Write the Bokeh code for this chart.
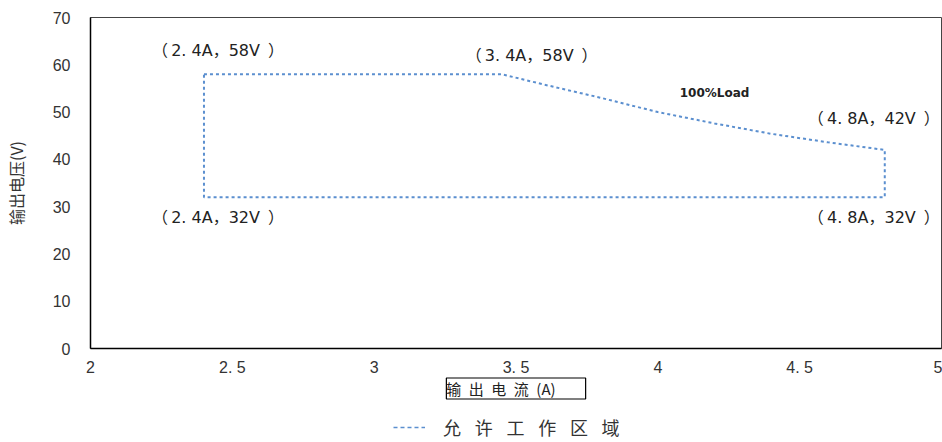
from bokeh.plotting import figure
from bokeh.layouts import column
from bokeh.models import Range1d, Label, Legend, LegendItem, FixedTicker, Title
from bokeh.core.properties import value
from bokeh.embed import file_html
from bokeh.resources import INLINE

# --- data ---
current_a = [2.4, 3.4, 3.45, 3.6, 3.8, 4.0, 4.2, 4.4, 4.6, 4.8, 4.8, 2.4, 2.4]
voltage_v = [58, 58, 58, 55.8, 53, 50, 47.6, 45.4, 43.6, 42, 32, 32, 58]

point_x = [2.4, 2.4, 3.4, 4.8, 4.8]
point_y = [58, 32, 58, 42, 32]
point_text = ["（\u20092. 4A，58V\u2002）", "（\u20092. 4A，32V\u2002）", "（\u20093. 4A，58V\u2002）",
              "（\u20094. 8A，42V\u2002）", "（\u20094. 8A，32V\u2002）"]
point_dx = [14, 14, 44, -11, -11]
point_dy = [-24, 20, -19, -31, 20]

x_ticks = [2, 2.5, 3, 3.5, 4, 4.5, 5]
x_tick_labels = ["2", "2. 5", "3", "3. 5", "4", "4. 5", "5"]
y_ticks = [0, 10, 20, 30, 40, 50, 60, 70]

load_note = "100%Load"
load_x, load_y = 4.2, 54
legend_text = "\u2002\u2009\u200a".join("允许工作区域")
x_title = "\u2002".join(["输", "出", "电", "流", "(A)"]) + "\u2003\u2003"
y_title = "输出电压(V)"

LINE_COLOR = "#5b8fcf"
TICK_FONT = "Liberation Sans"
LBL_FONT = "DejaVu Sans, Noto Sans CJK SC"
CJK = "Noto Sans CJK SC"

p = figure(width=942, height=410, output_backend="svg", toolbar_location=None,
           x_range=Range1d(2, 5), y_range=Range1d(0, 70),
           min_border_left=89, min_border_right=1, min_border_top=17, min_border_bottom=62)

p.xgrid.visible = False
p.ygrid.visible = False
p.outline_line_color = "#444444"
p.outline_line_width = 1
p.background_fill_color = "white"
p.border_fill_color = "white"

for ax in (p.xaxis[0], p.yaxis[0]):
    ax.axis_line_color = "black"
    ax.axis_line_width = 1.5
    ax.major_tick_line_color = None
    ax.minor_tick_line_color = None
    ax.major_tick_out = 0
    ax.major_tick_in = 0
    ax.minor_tick_out = 0
    ax.major_label_text_font = TICK_FONT
    ax.major_label_text_font_size = "16px"
    ax.major_label_text_color = "#333333"

p.xaxis[0].ticker = FixedTicker(ticks=x_ticks)
p.xaxis[0].major_label_overrides = {t: l for t, l in zip(x_ticks, x_tick_labels)}
p.xaxis[0].major_label_standoff = 10
p.yaxis[0].ticker = FixedTicker(ticks=y_ticks)
p.yaxis[0].major_label_standoff = 20
p.yaxis[0].axis_label = y_title
p.yaxis[0].axis_label_text_font = CJK
p.yaxis[0].axis_label_text_font_size = "16px"
p.yaxis[0].axis_label_text_font_style = "normal"
p.yaxis[0].axis_label_text_color = "#333333"
p.yaxis[0].axis_label_standoff = 22

p.line(current_a, voltage_v, line_color=LINE_COLOR, line_width=2, line_dash="3 3")

p.text(point_x, point_y, text=point_text, x_offset=point_dx, y_offset=point_dy,
       text_font=value(LBL_FONT), text_font_size="16px", text_color="#222222",
       text_align="center", text_baseline="middle")

p.add_layout(Label(x=load_x, y=load_y, text=load_note, text_font="DejaVu Sans",
                   text_font_size="12px", text_font_style="bold", text_color="#222222",
                   text_align="center", text_baseline="middle"))

xt = Title(text=x_title, align="center", text_font=CJK, text_font_size="15px",
           text_font_style="normal", text_color="#222222", text_line_height=1.0,
           border_line_color="black", border_line_width=1.2,
           background_fill_color="white", padding=0, standoff=-5)
p.add_layout(xt, "below")

# legend strip below the chart
p2 = figure(width=942, height=32, output_backend="svg", toolbar_location=None,
            x_range=Range1d(0, 1), y_range=Range1d(0, 1),
            x_axis_location=None, y_axis_location=None,
            min_border_left=0, min_border_right=0, min_border_top=0, min_border_bottom=0)
p2.xgrid.visible = False
p2.ygrid.visible = False
p2.outline_line_color = None
p2.background_fill_color = "white"
p2.border_fill_color = "white"
r2 = p2.line(current_a, voltage_v, line_color=LINE_COLOR, line_width=1.5, line_dash="4 3",
             visible=False)
legend = Legend(items=[LegendItem(label=legend_text, renderers=[r2])],
                location=(303, 2), orientation="horizontal",
                border_line_color=None, background_fill_alpha=0,
                inactive_fill_alpha=0,
                padding=0, margin=0, spacing=0,
                glyph_width=32, label_standoff=18,
                label_text_font=CJK, label_text_font_size="18px", label_text_color="#333333")
p2.add_layout(legend, "center")

layout = column(p, p2, spacing=0)
open("out.html", "w").write(file_html(layout, INLINE))
